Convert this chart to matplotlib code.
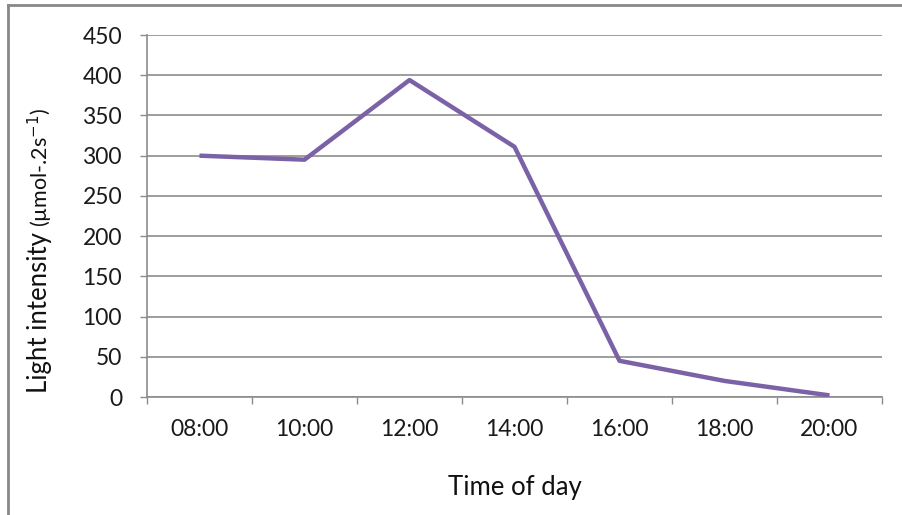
import matplotlib
matplotlib.use("Agg")
import matplotlib.pyplot as plt
from matplotlib.lines import Line2D

plt.rcParams['font.family'] = ['Lato', 'DejaVu Sans']

# data
times = ['08:00', '10:00', '12:00', '14:00', '16:00', '18:00', '20:00']
light = [300, 295, 394, 311, 45, 20, 2]
y_ticks = [0, 50, 100, 150, 200, 250, 300, 350, 400, 450]

W, H = 903, 515
fig = plt.figure(figsize=(W / 100, H / 100), dpi=100)
ax = fig.add_axes([147 / W, 1 - 397 / H, (882 - 147) / W, (397 - 35) / H])

x = list(range(len(times)))
ax.plot(x, light, color='#7B61A6', linewidth=3.2, solid_capstyle='butt', zorder=3)

grey = '#8C8C8C'
ax.set_xlim(-0.5, len(times) - 0.5)
ax.set_ylim(0, 450)
ax.set_yticks(y_ticks)
ax.yaxis.grid(True, color=grey, linewidth=1.2)
ax.set_axisbelow(True)

# category boundaries carry the tick marks, labels sit in the middle
ax.set_xticks([i - 0.5 for i in range(len(times) + 1)])
ax.set_xticklabels([])
ax.set_xticks(x, minor=True)
ax.set_xticklabels(times, minor=True)
ax.tick_params(axis='x', which='major', length=5, width=1, color=grey)
ax.tick_params(axis='x', which='minor', length=0, pad=16, labelsize=16.5, labelcolor='#1a1a1a')
ax.tick_params(axis='y', length=5, width=1, color=grey, pad=13, labelsize=16.5, labelcolor='#1a1a1a')

for s in ['top', 'right']:
    ax.spines[s].set_visible(False)
for s in ['left', 'bottom']:
    ax.spines[s].set_color(grey)
    ax.spines[s].set_linewidth(1.2)

fig.text(515 / W, 1 - 487 / H, 'Time of day', ha='center', va='center',
         fontsize=18.5, color='#111111')

# y label: big part plus smaller unit part
t1 = fig.text(40 / W, 1 - 393 / H, 'Light intensity', rotation=90,
              rotation_mode='anchor', ha='left', va='center',
              fontsize=18.5, color='#111111')
fig.canvas.draw()
bb = t1.get_window_extent()
fig.text(40 / W, (bb.y1 + 5) / H, '(µmol-.2s$^{-1}$)', rotation=90,
         rotation_mode='anchor', ha='left', va='center',
         fontsize=15.5, color='#111111')

# chart area border (partly cropped in the original)
fig.add_artist(Line2D([8 / W, 1], [1 - 5 / H, 1 - 5 / H], color='#888888', linewidth=2))
fig.add_artist(Line2D([8 / W, 8 / W], [0, 1 - 5 / H], color='#888888', linewidth=2))

fig.savefig('out.png', dpi=100)
